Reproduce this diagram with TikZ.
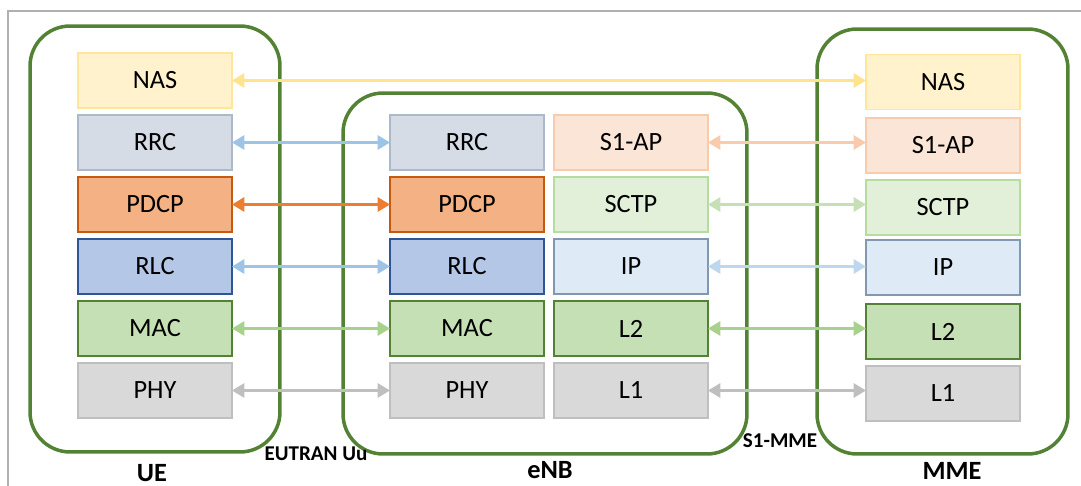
\documentclass[tikz,border=0pt]{standalone}
\usepackage{fontspec}
\setmainfont{Carlito}
\usetikzlibrary{arrows.meta}
\definecolor{contG}{HTML}{548235}
\definecolor{nasF}{HTML}{FFF2CC}\definecolor{nasD}{HTML}{FFE699}\definecolor{nasA}{HTML}{FFE38F}
\definecolor{rrcF}{HTML}{D6DCE5}\definecolor{rrcD}{HTML}{ADB9CA}\definecolor{blueA}{HTML}{9DC3E6}
\definecolor{pdcpF}{HTML}{F4B183}\definecolor{pdcpD}{HTML}{C55A11}\definecolor{pdcpA}{HTML}{ED7D31}
\definecolor{rlcF}{HTML}{B4C7E7}\definecolor{rlcD}{HTML}{2F5597}
\definecolor{macF}{HTML}{C5E0B4}\definecolor{macD}{HTML}{548235}\definecolor{macA}{HTML}{A9D18E}
\definecolor{phyF}{HTML}{D9D9D9}\definecolor{phyD}{HTML}{BFBFBF}\definecolor{phyA}{HTML}{BFBFBF}
\definecolor{s1F}{HTML}{FBE5D6}\definecolor{s1D}{HTML}{F8CBAD}
\definecolor{sctpF}{HTML}{E2F0D9}\definecolor{sctpD}{HTML}{B5DDA0}\definecolor{sctpA}{HTML}{C5E0B4}
\definecolor{ipF}{HTML}{DEEBF7}\definecolor{ipD}{HTML}{8497B0}\definecolor{ipA}{HTML}{BDD7EE}
\definecolor{frameG}{HTML}{B0B0B0}
\tikzset{
  layer/.style={draw, line width=1.1pt, minimum width=3.08cm, minimum height=1.1cm, inner sep=0pt, outer sep=0pt, font=\fontsize{15}{18}\selectfont, text=black},
  nas/.style={layer, fill=nasF, draw=nasD},
  rrc/.style={layer, fill=rrcF, draw=rrcD},
  pdcp/.style={layer, fill=pdcpF, draw=pdcpD, line width=1.4pt},
  rlc/.style={layer, fill=rlcF, draw=rlcD, line width=1.4pt},
  mac/.style={layer, fill=macF, draw=macD, line width=1.3pt},
  phy/.style={layer, fill=phyF, draw=phyD, line width=1.3pt},
  s1ap/.style={layer, fill=s1F, draw=s1D},
  sctp/.style={layer, fill=sctpF, draw=sctpD},
  ipbox/.style={layer, fill=ipF, draw=ipD},
  cont/.style={draw=contG, line width=2pt, rounded corners=0.8cm, inner sep=0pt},
  arr/.style={line width=1.5pt, {Triangle[length=7pt,width=8pt]}-{Triangle[length=7pt,width=8pt]}},
  lbl/.style={font=\bfseries\fontsize{15}{18}\selectfont, text=black, inner sep=0pt},
  slbl/.style={font=\bfseries\fontsize{12}{14}\selectfont, text=black, inner sep=0pt},
}
\begin{document}
\begin{tikzpicture}[x=0.02cm,y=-0.02cm]
\useasboundingbox (0,0) rectangle (1081,486);
\draw[frameG, line width=0.6pt] (8,486) -- (8,11) -- (1081,11);
% containers
\node[cont, minimum width=5cm, minimum height=8.52cm] (ue) at (155,239) {};
\node[cont, minimum width=8.08cm, minimum height=7.22cm] (enb) at (545,273.5) {};
\node[cont, minimum width=5.02cm, minimum height=8.5cm] (mme) at (942.5,241.5) {};
% UE stack
\node[nas]  (uNAS)  at (155,80.5)  {NAS};
\node[rrc]  (uRRC)  at (155,142.5) {RRC};
\node[pdcp] (uPDCP) at (155,204.5) {PDCP};
\node[rlc]  (uRLC)  at (155,266.5) {RLC};
\node[mac]  (uMAC)  at (155,328.5) {MAC};
\node[phy]  (uPHY)  at (155,390.5) {PHY};
% eNB stacks
\node[rrc]  (eRRC)  at (467,142.5) {RRC};
\node[pdcp] (ePDCP) at (467,204.5) {PDCP};
\node[rlc]  (eRLC)  at (467,266.5) {RLC};
\node[mac]  (eMAC)  at (467,328.5) {MAC};
\node[phy]  (ePHY)  at (467,390.5) {PHY};
\node[s1ap] (eS1)   at (631,142.5) {S1-AP};
\node[sctp] (eSCTP) at (631,204.5) {SCTP};
\node[ipbox](eIP)   at (631,266.5) {IP};
\node[mac]  (eL2)   at (631,328.5) {L2};
\node[phy]  (eL1)   at (631,390.5) {L1};
% MME stack
\node[nas]  (mNAS)  at (943,82)    {NAS};
\node[s1ap] (mS1)   at (943,145.5) {S1-AP};
\node[sctp] (mSCTP) at (943,207.5) {SCTP};
\node[ipbox](mIP)   at (943,267.5) {IP};
\node[mac]  (mL2)   at (943,331.5) {L2};
\node[phy]  (mL1)   at (943,393.5) {L1};
% arrows UE - eNB
\draw[arr, nasA]  (uNAS.east) -- (uNAS.east -| mNAS.west);
\draw[arr, blueA] (uRRC.east) -- (eRRC.west);
\draw[arr, pdcpA] (uPDCP.east) -- (ePDCP.west);
\draw[arr, blueA] (uRLC.east) -- (eRLC.west);
\draw[arr, macA]  (uMAC.east) -- (eMAC.west);
\draw[arr, phyA]  (uPHY.east) -- (ePHY.west);
% arrows eNB - MME
\draw[arr, s1D]   (eS1.east) -- (eS1.east -| mS1.west);
\draw[arr, sctpA] (eSCTP.east) -- (eSCTP.east -| mSCTP.west);
\draw[arr, ipA]   (eIP.east) -- (eIP.east -| mIP.west);
\draw[arr, macA]  (eL2.east) -- (eL2.east -| mL2.west);
\draw[arr, phyA]  (eL1.east) -- (eL1.east -| mL1.west);
% labels
\node[lbl]  (tUE)  at (152,473) {UE};
\node[lbl]  (tENB) at (550,470) {eNB};
\node[lbl]  (tMME) at (952,471) {MME};
\node[slbl] (tUu)  at (316,454) {EUTRAN Uu};
\node[slbl] (tS1)  at (780,441) {S1-MME};
\end{tikzpicture}
\end{document}
